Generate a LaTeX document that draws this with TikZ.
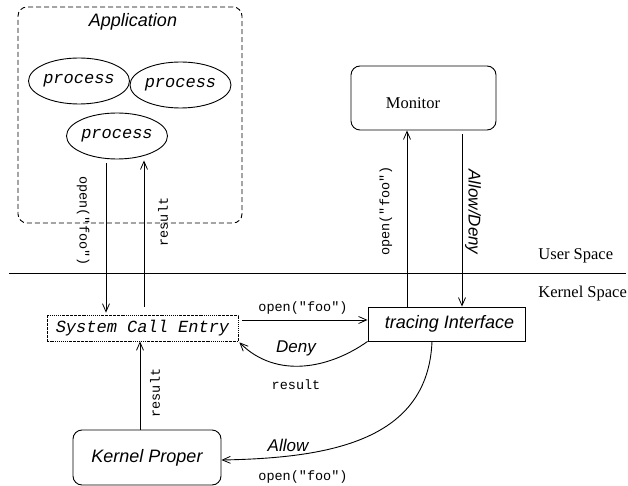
\documentclass[tikz,border=0pt]{standalone}
\usepackage{fontspec}
\setmainfont{Liberation Serif}
\setsansfont{Liberation Sans}
\setmonofont{Liberation Mono}
\usetikzlibrary{arrows.meta,shapes.geometric}
\tikzset{
  every path/.style={line width=0.9pt},
  arr/.style={-{Straight Barb[length=8pt,width=7pt,line width=0.8pt]}},
  sansit/.style={font=\fontsize{18}{21}\selectfont\sffamily\itshape},
  edgeit/.style={font=\fontsize{17}{20}\selectfont\sffamily\itshape, inner sep=0pt},
  monobig/.style={font=\fontsize{17}{20}\selectfont\ttfamily\itshape},
  monosmall/.style={font=\fontsize{13.5}{16}\selectfont\ttfamily, inner sep=0pt},
  serifl/.style={font=\fontsize{16.5}{19}\selectfont\rmfamily, inner sep=0pt},
  proc/.style={draw, ellipse, minimum width=98pt, minimum height=46pt, inner sep=0pt, monobig},
  rbox/.style={draw, rounded corners=9pt, inner sep=0pt},
}
\begin{document}
\begin{tikzpicture}[x=1pt,y=-1pt]
\useasboundingbox (0,0) rectangle (628,486);
% Application container
\node[draw, dash pattern=on 5pt off 3pt, rounded corners=9pt, minimum width=224pt, minimum height=216pt, inner sep=0pt] (app) at (130,115) {};
\node[sansit, inner sep=0pt] (apptitle) at (133,22) {Application};
\node[proc] (p1) at (79,81) {process};
\node[proc, minimum width=97pt] (p2) at (180.5,85) {process};
\node[proc] (p3) at (117,136) {process};
% separator
\coordinate (sepL) at (9,273);
\coordinate (sepR) at (626,273);
\draw (sepL) -- (sepR);
\node[serifl, anchor=west] (us) at (538,256) {User Space};
\node[serifl, anchor=west] (ks) at (538,294) {Kernel Space};
% boxes
\node[draw, dash pattern=on 1.6pt off 0.9pt on 0.5pt off 0.9pt, line width=0.7pt, minimum width=191pt, minimum height=26pt, inner sep=0pt, monobig] (sce) at (142.5,328) {System Call Entry};
\node[draw, minimum width=157pt, minimum height=34pt, inner sep=0pt, sansit] (ti) at (446.5,324) {\hspace*{6pt}tracing Interface};
\node[rbox, minimum width=145pt, minimum height=64pt] (mon) at (423.5,98) {};
\node[serifl] (monlbl) at (413,103) {Monitor};
\node[rbox, minimum width=148pt, minimum height=55pt, sansit] (kp) at (147,457.5) {Kernel Proper};
% connectors
\draw[arr] ([shift={(-11,4)}]p3.south) -- ([shift={(-36.5,-2)}]sce.north);
\draw[arr] ([shift={(1.5,-8)}]sce.north) -- ([shift={(27,1)}]p3.south);
\draw[arr] ([shift={(-39.5,0)}]ti.north) -- ([shift={(-16.5,0)}]mon.south);
\draw[arr] ([shift={(38.5,4)}]mon.south) -- ([shift={(15.5,0)}]ti.north);
\draw[arr] ([shift={(4,-8)}]sce.east) -- ([shift={(0,-4)}]ti.west);
\draw[arr] (ti.south west) .. controls +(-38,27) and +(37,37) .. ([shift={(1,1)}]sce.south east);
\draw[arr] ([shift={(-14.5,0)}]ti.south) .. controls +(-4,99) and +(109,-2) .. ([shift={(0,2.5)}]kp.east);
\draw[arr] ([shift={(-7,0)}]kp.north) -- ([shift={(-2.5,0)}]sce.south);
% labels
\node[monosmall, rotate=-90] (l1) at (83,221) {open("foo")};
\node[monosmall, rotate=90] (l2) at (163,222) {result};
\node[monosmall, rotate=90] (l3) at (386,211) {open("foo")};
\node[edgeit, rotate=-90] (l4) at (473,212) {Allow/Deny};
\node[monosmall] (l5) at (303,308) {open("foo")};
\node[edgeit] (l6) at (296,348) {Deny};
\node[monosmall] (l7) at (296,385) {result};
\node[edgeit] (l8) at (288,445) {Allow};
\node[monosmall] (l9) at (303,477) {open("foo")};
\node[monosmall, rotate=90] (l10) at (155,393) {result};
\end{tikzpicture}
\end{document}
